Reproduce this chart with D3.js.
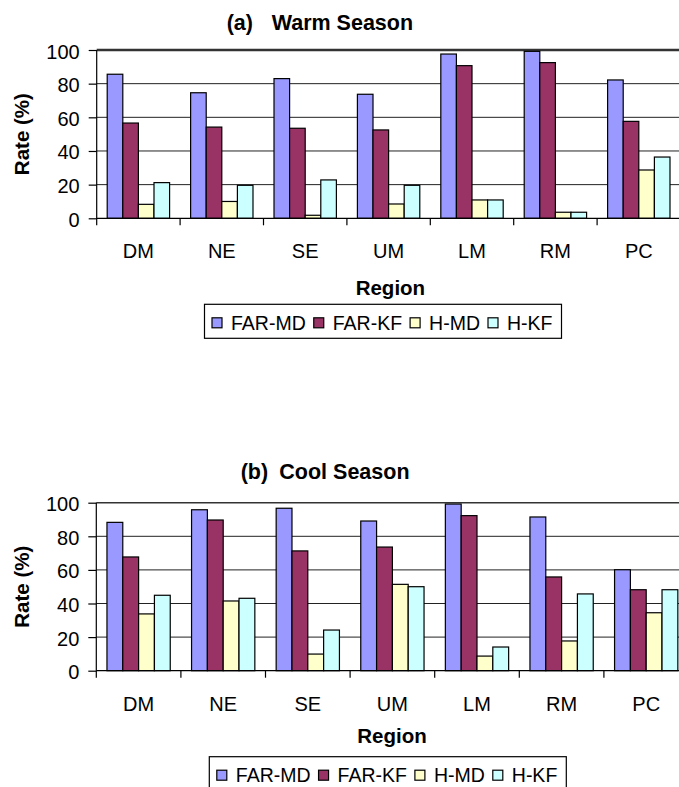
<!DOCTYPE html>
<html>
<head>
<meta charset="utf-8">
<script src="https://cdn.jsdelivr.net/npm/d3@7"></script>
<style>
  html, body { margin: 0; padding: 0; background: #fff; }
  svg { display: block; }
  text { font-family: Arial, "Liberation Sans", sans-serif; fill: #000; }
</style>
</head>
<body>
<svg id="chart" width="679" height="787"></svg>
<script>
// Regions and series
const regions = ["DM", "NE", "SE", "UM", "LM", "RM", "PC"];
const seriesNames = ["FAR-MD", "FAR-KF", "H-MD", "H-KF"];
const seriesColors = ["#9999FF", "#993366", "#FFFFCC", "#CCFFFF"];
const yTicks = [0, 20, 40, 60, 80, 100];

// (a) Warm season rates (%)
const warmFarMD = [85.6, 74.6, 83.0, 73.7, 97.6, 99.2, 82.2];
const warmFarKF = [56.6, 54.2, 53.5, 52.5, 90.7, 92.5, 57.6];
const warmHMD   = [8.3, 10.0, 1.8, 8.5, 10.9, 3.6, 28.7];
const warmHKF   = [21.2, 19.6, 22.8, 19.6, 10.9, 3.6, 36.4];

// (b) Cool season rates (%)
const coolFarMD = [88.3, 95.8, 96.7, 89.1, 99.2, 91.5, 60.1];
const coolFarKF = [67.7, 89.7, 71.3, 73.6, 92.3, 55.8, 48.2];
const coolHMD   = [33.8, 41.5, 9.9, 51.4, 8.7, 17.7, 34.5];
const coolHKF   = [44.9, 43.1, 24.2, 50.0, 14.1, 45.7, 48.2];

const svg = d3.select("#chart");

function drawPanel(p) {
  const g = svg.append("g");
  const rows = regions.map((r, i) => ({
    region: r,
    values: p.series.map((s, k) => ({ name: seriesNames[k], value: s[i], k }))
  }));

  const x0 = d3.scaleBand().domain(regions).range([p.left, p.right]).padding(0);
  const bw = x0.bandwidth();
  const x1 = d3.scaleBand().domain(seriesNames).range([bw * 0.126, bw * 0.874]).padding(0);
  const y = d3.scaleLinear().domain([0, 100]).range([p.bottom, p.top]);

  // gridlines
  g.append("g").selectAll("line")
    .data(yTicks.filter(t => t > 0))
    .join("line")
    .attr("x1", p.left).attr("x2", 679)
    .attr("y1", d => y(d)).attr("y2", d => y(d))
    .attr("stroke", d => d === 100 ? "#333" : "#222")
    .attr("stroke-width", d => d === 100 ? p.topLineWidth : 1);

  // bars
  const groups = g.append("g").selectAll("g")
    .data(rows).join("g")
    .attr("transform", d => `translate(${x0(d.region)},0)`);
  groups.selectAll("rect")
    .data(d => d.values).join("rect")
    .attr("x", d => x1(d.name))
    .attr("width", x1.bandwidth())
    .attr("y", d => y(d.value))
    .attr("height", d => y(0) - y(d.value))
    .attr("fill", d => seriesColors[d.k])
    .attr("stroke", "#000")
    .attr("stroke-width", 1.2);

  // y axis
  const yAxis = g.append("g")
    .attr("transform", `translate(${p.left},0)`)
    .call(d3.axisLeft(y).tickValues(yTicks).tickSize(8).tickPadding(9).tickSizeOuter(0));
  yAxis.select(".domain").attr("stroke", "#000").attr("stroke-width", 1.2)
    .attr("d", `M0,${p.top}V${p.bottom + 7}`);
  yAxis.selectAll(".tick line").attr("stroke", "#000").attr("stroke-width", 1.2);
  yAxis.selectAll(".tick text")
    .attr("font-size", 20).attr("font-family", "Arial, 'Liberation Sans', sans-serif")
    .attr("fill", "#000").attr("dy", "0.4em");

  // x axis baseline and category boundary ticks
  g.append("line")
    .attr("x1", p.left).attr("x2", 679)
    .attr("y1", y(0)).attr("y2", y(0))
    .attr("stroke", "#000").attr("stroke-width", 1.2);
  g.append("g").selectAll("line")
    .data(regions.slice(1))
    .join("line")
    .attr("x1", d => x0(d)).attr("x2", d => x0(d))
    .attr("y1", y(0)).attr("y2", y(0) + 7)
    .attr("stroke", "#000").attr("stroke-width", 1.2);

  const xAxis = g.append("g")
    .attr("transform", `translate(0,${p.bottom})`)
    .call(d3.axisBottom(x0).tickSize(0).tickPadding(0));
  xAxis.select(".domain").remove();
  xAxis.selectAll(".tick text")
    .attr("font-size", 20).attr("font-family", "Arial, 'Liberation Sans', sans-serif")
    .attr("fill", "#000").attr("y", 40).attr("dy", 0);

  // titles
  const title = g.append("text")
    .attr("y", p.titleY)
    .attr("font-size", 21.5).attr("font-weight", "bold");
  title.append("tspan").attr("x", p.tagX).text(p.tag);
  title.append("tspan").attr("x", p.titleX).text(p.title);

  g.append("text")
    .attr("x", p.regionX).attr("y", p.regionY)
    .attr("text-anchor", "middle")
    .attr("font-size", 20.5).attr("font-weight", "bold")
    .text("Region");

  g.append("text")
    .attr("transform", `translate(28.5,${(p.top + p.bottom) / 2}) rotate(-90)`)
    .attr("text-anchor", "middle")
    .attr("font-size", 20.5).attr("font-weight", "bold")
    .text("Rate (%)");

  // legend
  const lg = g.append("g");
  const box = lg.append("rect")
    .attr("x", p.legendX).attr("y", p.legendY)
    .attr("height", 34)
    .attr("fill", "#fff").attr("stroke", "#000").attr("stroke-width", 1.2);
  let cx = p.legendX + 7.5;
  seriesNames.forEach((name, k) => {
    lg.append("rect")
      .attr("x", cx).attr("y", p.legendY + 13.5)
      .attr("width", 10).attr("height", 10)
      .attr("fill", seriesColors[k]).attr("stroke", "#000").attr("stroke-width", 1.2);
    const t = lg.append("text")
      .attr("x", cx + 19).attr("y", p.legendY + 25.7)
      .attr("font-size", 19.5)
      .text(name);
    cx += 19 + t.node().getComputedTextLength() + 8;
  });
  box.attr("width", cx - p.legendX + 1);
}

drawPanel({
  series: [warmFarMD, warmFarKF, warmHMD, warmHKF],
  left: 96.7, right: 680.5, top: 50, bottom: 218.3, topLineWidth: 2.5,
  tag: "(a)", title: "Warm Season", tagX: 226.7, titleX: 271.7, titleY: 30,
  regionX: 390.4, regionY: 295,
  legendX: 204.5, legendY: 304.3
});

drawPanel({
  series: [coolFarMD, coolFarKF, coolHMD, coolHKF],
  left: 96.3, right: 688.5, top: 502.7, bottom: 670.7, topLineWidth: 1.6,
  tag: "(b)", title: "Cool Season", tagX: 240.7, titleX: 279.3, titleY: 479.3,
  regionX: 392, regionY: 743.3,
  legendX: 209.3, legendY: 756.7
});
</script>
</body>
</html>
